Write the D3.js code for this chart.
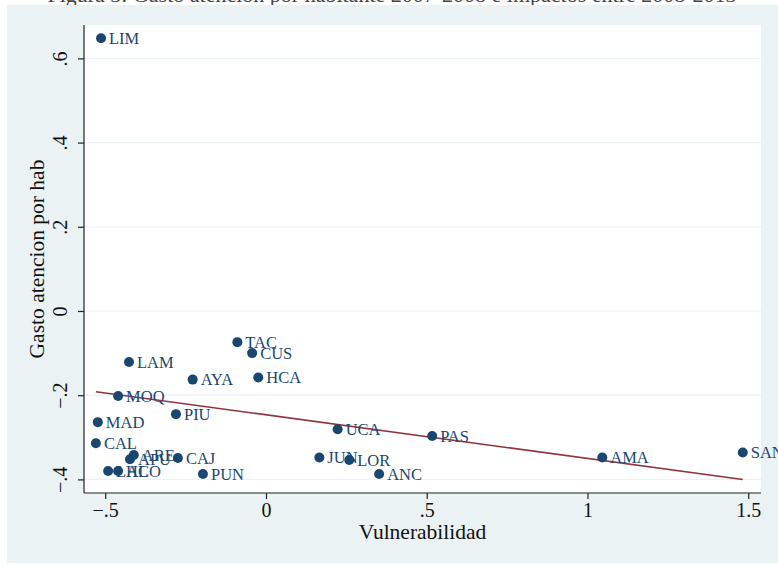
<!DOCTYPE html>
<html>
<head>
<meta charset="utf-8">
<script src="https://cdn.jsdelivr.net/npm/d3@7"></script>
<style>
  body { margin: 0; background: #fff; }
  svg { display: block; font-family: "Liberation Serif", "DejaVu Serif", serif; }
</style>
</head>
<body>
<svg id="chart"></svg>
<script>
// departamentos (marker labels) and values
const regions = ['LIM', 'TAC', 'CUS', 'LAM', 'AYA', 'HCA', 'MOQ', 'PIU', 'MAD', 'CAL', 'UCA', 'PAS',
	'ARE', 'APU', 'CAJ', 'PUN', 'LAL', 'HCO', 'JUN', 'LOR', 'ANC', 'AMA', 'SAN'];
const vulnerabilidad = [-0.513, -0.089, -0.043, -0.426, -0.228, -0.024, -0.460, -0.280, -0.523, -0.529, 0.223, 0.517,
	-0.411, -0.423, -0.274, -0.196, -0.491, -0.460, 0.166, 0.259, 0.352, 1.046, 1.483];
const gasto = [0.648, -0.074, -0.100, -0.121, -0.163, -0.158, -0.202, -0.245, -0.264, -0.314, -0.281, -0.297,
	-0.342, -0.352, -0.349, -0.387, -0.380, -0.380, -0.348, -0.354, -0.387, -0.348, -0.336];

const xTicks = [-0.5, 0, 0.5, 1, 1.5];
const xTickLabels = ['\u2212.5', '0', '.5', '1', '1.5'];
const yTicks = [-0.4, -0.2, 0, 0.2, 0.4, 0.6];
const yTickLabels = ['\u2212.4', '\u2212.2', '0', '.2', '.4', '.6'];

const title = 'Figura 3: Gasto atencion por habitante 2007-2008 e impactos entre 2008-2013';
const xTitle = 'Vulnerabilidad';
const yTitle = 'Gasto atencion por hab';

const navy = '#1a476f';
const maroon = '#90353b';
const bluishGray = '#eaf2f3';

// dimensions
const W = 778, H = 566;
const plot = {left: 84, right: 761, top: 25, bottom: 493};

const $svg = d3.select('#chart')
	.attr('width', W)
	.attr('height', H);

// caption strip, cut off at the top of the picture
$svg.append('text')
	.attr('x', 392)
	.attr('y', 2)
	.attr('text-anchor', 'middle')
	.style('font-size', '22px')
	.style('fill', '#444')
	.text(title);

// graph region
$svg.append('rect')
	.attr('x', 7).attr('y', 5)
	.attr('width', W - 7).attr('height', 558)
	.attr('fill', bluishGray);

// plot region
$svg.append('rect')
	.attr('x', plot.left).attr('y', plot.top)
	.attr('width', plot.right - plot.left).attr('height', plot.bottom - plot.top)
	.attr('fill', '#fff');

// scales
const scaleX = d3.scaleLinear()
	.domain([-0.566, 1.5397])
	.range([plot.left, plot.right]);

const scaleY = d3.scaleLinear()
	.domain([-0.4323, 0.6793])
	.range([plot.bottom, plot.top]);

// gridlines
$svg.append('g')
	.selectAll('line')
	.data(yTicks)
	.enter()
	.append('line')
	.attr('x1', plot.left).attr('x2', plot.right)
	.attr('y1', d => scaleY(d)).attr('y2', d => scaleY(d))
	.attr('stroke', bluishGray)
	.attr('stroke-width', 1.2);

// axes
const xAxis = $svg.append('g')
	.attr('transform', 'translate(0,' + plot.bottom + ')')
	.call(d3.axisBottom(scaleX).tickValues(xTicks).tickSize(6).tickPadding(4)
		.tickFormat((d, i) => xTickLabels[i]));

const yAxis = $svg.append('g')
	.attr('transform', 'translate(' + plot.left + ',0)')
	.call(d3.axisLeft(scaleY).tickValues(yTicks).tickSize(6)
		.tickFormat((d, i) => yTickLabels[i]));

[xAxis, yAxis].forEach(a => {
	a.select('.domain').attr('stroke', '#222').attr('stroke-width', 1.2);
	a.selectAll('.tick line').attr('stroke', '#222').attr('stroke-width', 1.2);
	a.selectAll('.tick text')
		.style('font-family', '"Liberation Serif", serif')
		.style('font-size', '20px')
		.attr('fill', '#111');
});
// stata draws the axis line over the whole plot region
xAxis.select('.domain').attr('d', 'M' + plot.left + ',0H' + plot.right);
yAxis.select('.domain').attr('d', 'M0,' + plot.top + 'V' + plot.bottom);

// y labels are turned on their side
yAxis.selectAll('.tick text')
	.attr('x', null).attr('dy', null)
	.attr('text-anchor', 'middle')
	.attr('transform', 'translate(-17,0) rotate(-90)');

// axis titles
$svg.append('text')
	.attr('x', (plot.left + plot.right) / 2)
	.attr('y', 539)
	.attr('text-anchor', 'middle')
	.style('font-size', '21.5px')
	.style('fill', '#111')
	.text(xTitle);

$svg.append('text')
	.attr('transform', 'translate(44,' + (plot.top + plot.bottom) / 2 + ') rotate(-90)')
	.attr('text-anchor', 'middle')
	.style('font-size', '21.5px')
	.style('fill', '#111')
	.text(yTitle);

// linear fit (least squares over the points)
const mx = d3.mean(vulnerabilidad), my = d3.mean(gasto);
const slope = d3.sum(vulnerabilidad, (x, i) => (x - mx) * (gasto[i] - my)) /
	d3.sum(vulnerabilidad, x => (x - mx) * (x - mx));
const intercept = my - slope * mx;
const xExtent = d3.extent(vulnerabilidad);

$svg.append('line')
	.attr('x1', scaleX(xExtent[0])).attr('y1', scaleY(intercept + slope * xExtent[0]))
	.attr('x2', scaleX(xExtent[1])).attr('y2', scaleY(intercept + slope * xExtent[1]))
	.attr('stroke', maroon)
	.attr('stroke-width', 1.6);

// points + marker labels
const $pts = $svg.append('g')
	.selectAll('g')
	.data(regions)
	.enter()
	.append('g')
	.attr('transform', (d, i) => 'translate(' + scaleX(vulnerabilidad[i]) + ',' + scaleY(gasto[i]) + ')');

$pts.append('circle')
	.attr('r', 5)
	.attr('fill', navy);

$pts.append('text')
	.attr('x', 8)
	.attr('dy', '0.35em')
	.style('font-size', '16.5px')
	.style('fill', navy)
	.text(d => d);
</script>
</body>
</html>
